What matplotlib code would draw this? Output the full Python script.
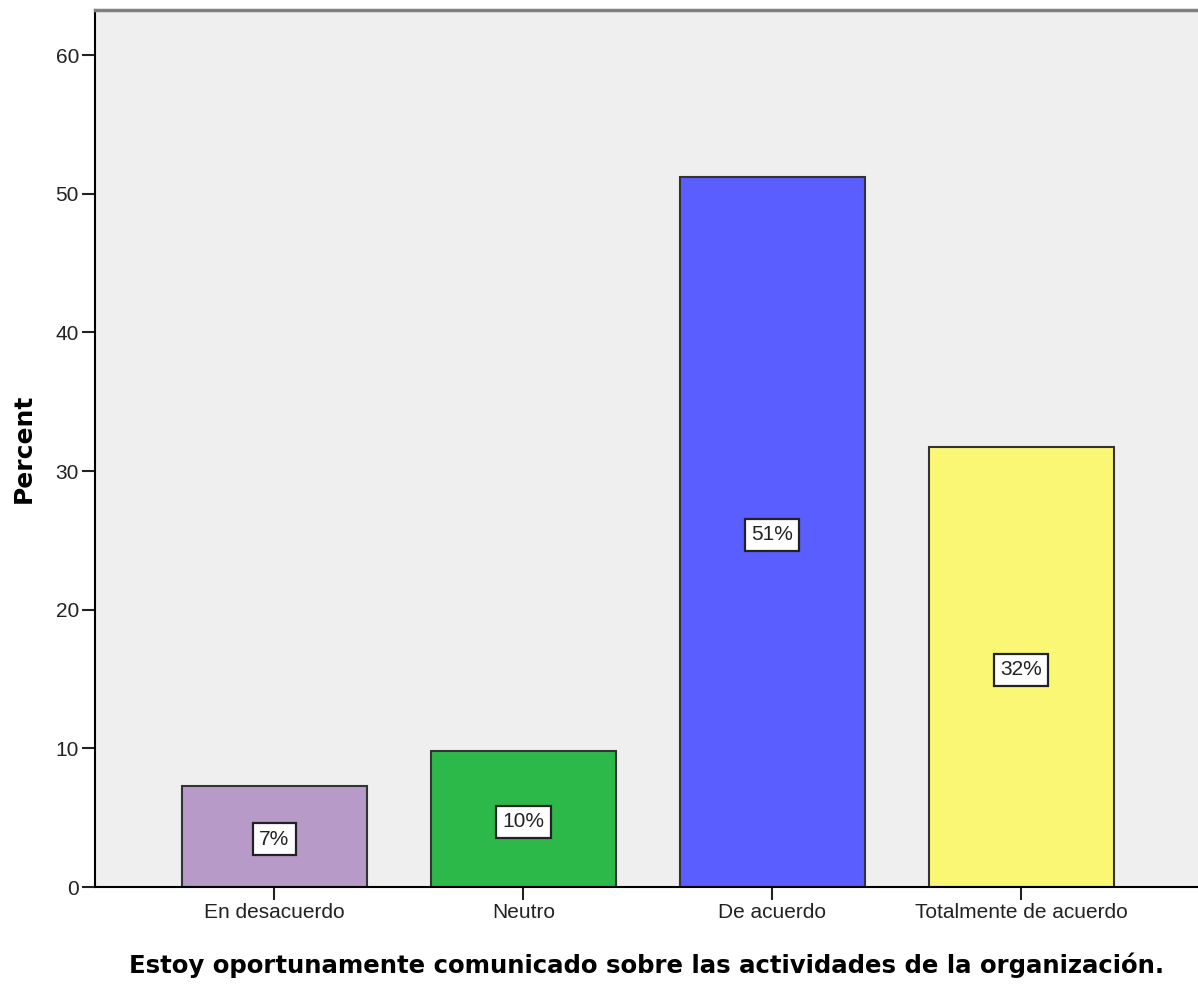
import matplotlib.pyplot as plt

categories = ["En desacuerdo", "Neutro", "De acuerdo", "Totalmente de acuerdo"]
percent = [7.3, 9.8, 51.2, 31.7]
labels = ["7%", "10%", "51%", "32%"]
colors = ["#B89AC9", "#2DB84A", "#5A5EFF", "#FAF775"]

plt.rcParams['font.family'] = ['Liberation Sans', 'DejaVu Sans']

fig = plt.figure(figsize=(11.98, 9.86), dpi=100)
ax = fig.add_axes([0.0793, 0.1004, 0.9207, 0.8895])
ax.set_facecolor("#EFEFEF")

x = range(len(categories))
ax.bar(x, percent, width=0.744, color=colors, edgecolor="#333333", linewidth=1.5)

# etiquetas de porcentaje a media altura de cada barra
for i, v in enumerate(percent):
    ax.text(i, v / 2 - 0.2, labels[i], ha="center", va="center", fontsize=15,
            color="#222222",
            bbox=dict(boxstyle="square,pad=0.3", fc="white", ec="#222222", lw=1.6))

ax.set_xlim(-0.72, 3.71)
ax.set_ylim(0, 63.25)
ax.set_yticks([0, 10, 20, 30, 40, 50, 60])
ax.set_xticks(list(x))
ax.set_xticklabels(categories)
ax.tick_params(axis="both", labelsize=15, length=9.5, width=1.5, pad=2,
               color="#222222", labelcolor="#222222")

ax.spines["left"].set_linewidth(1.5)
ax.spines["bottom"].set_linewidth(1.5)
ax.spines["top"].set_color("#808080")
ax.spines["top"].set_linewidth(2.5)
ax.spines["right"].set_visible(False)

ax.set_ylabel("Percent", family="DejaVu Sans", fontsize=18, fontweight="bold", labelpad=14)
ax.set_xlabel("Estoy oportunamente comunicado sobre las actividades de la organización.",
              family="DejaVu Sans", fontsize=17.6, fontweight="bold", labelpad=22)

fig.savefig("out.png", dpi=100)
